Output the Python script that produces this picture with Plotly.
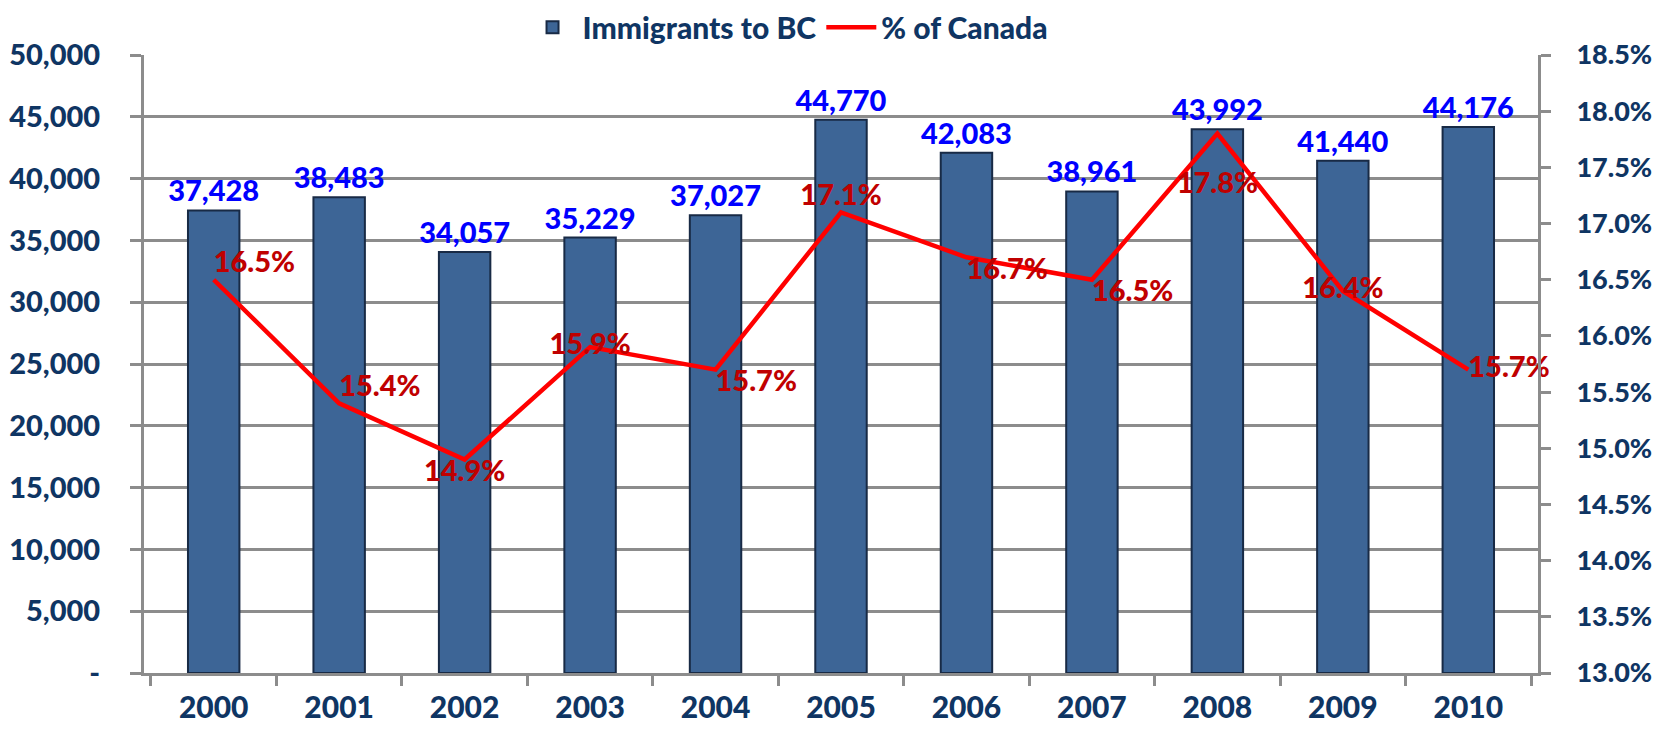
import plotly.graph_objects as go

years = ["2000", "2001", "2002", "2003", "2004", "2005", "2006", "2007", "2008", "2009", "2010"]
immigrants = [37428, 38483, 34057, 35229, 37027, 44770, 42083, 38961, 43992, 41440, 44176]
pct_canada = [16.5, 15.4, 14.9, 15.9, 15.7, 17.1, 16.7, 16.5, 17.8, 16.4, 15.7]
pct_label_pos = ["top right", "top right", "bottom center", "middle center", "bottom right",
                 "top center", "bottom right", "bottom right", "bottom center", "middle center",
                 "middle right"]
pct_label_drop = [0, 0, 0, 0, 0, 0, 0, 0, 1, 0, 0]  # extra line breaks before the label
left_ticks = [0, 5000, 10000, 15000, 20000, 25000, 30000, 35000, 40000, 45000, 50000]
left_tick_text = ["-", "5,000", "10,000", "15,000", "20,000", "25,000", "30,000",
                  "35,000", "40,000", "45,000", "50,000"]

NAVY = "#0f3563"
GRID = "#8c8c8c"
FONT = "Lato"
W = 900

fig = go.Figure()
fig.add_trace(go.Bar(
    x=years, y=immigrants, name="Immigrants to BC",
    marker=dict(color="#3d6596", line=dict(color="#182a45", width=2)),
    text=[f"{v:,}" for v in immigrants], textposition="outside", constraintext="none",
    textfont=dict(family=FONT, size=29, color="#0000ff", weight=W),
    cliponaxis=False,
))
fig.add_trace(go.Scatter(
    x=years, y=pct_canada, name="% of Canada", yaxis="y2",
    mode="lines+text", line=dict(color="#ff0000", width=4.5),
    text=["<br>" * d + f"{v:.1f}%" for v, d in zip(pct_canada, pct_label_drop)],
    textposition=pct_label_pos,
    textfont=dict(family=FONT, size=29, color="#c00000", weight=W),
    cliponaxis=False,
))

fig.update_layout(
    width=1661, height=735,
    margin=dict(l=136, r=131, t=47, b=70, autoexpand=False),
    paper_bgcolor="white", plot_bgcolor="white",
    bargap=0.59,
    font=dict(family=FONT, color=NAVY),
    showlegend=True,
    legend=dict(orientation="h", x=0.462, xanchor="center", y=1.045, yanchor="middle",
                font=dict(family=FONT, size=30, color=NAVY, weight=W),
                bgcolor="rgba(0,0,0,0)", itemwidth=50, tracegroupgap=0),
    xaxis=dict(
        type="category", showline=True, linecolor=GRID, linewidth=3, automargin=False,
        ticks="outside", tickson="boundaries", ticklen=10, tickwidth=3, tickcolor=GRID,
        tickfont=dict(family=FONT, size=30, color=NAVY, weight=W),
        ticklabelstandoff=6,
        showgrid=False,
    ),
    yaxis=dict(
        range=[0, 50000], tickvals=left_ticks, ticktext=left_tick_text, automargin=False,
        showline=True, linecolor=GRID, linewidth=3,
        ticks="outside", ticklen=11, tickwidth=3, tickcolor=GRID,
        showgrid=True, gridcolor=GRID, gridwidth=3, zeroline=False,
        tickfont=dict(family=FONT, size=29, color=NAVY, weight=W),
        ticklabelstandoff=24,
    ),
    yaxis2=dict(
        range=[13, 18.5], dtick=0.5, tick0=13, tickformat=".1f", ticksuffix="%",
        overlaying="y", side="right", showgrid=False, zeroline=False, automargin=False,
        showline=True, linecolor=GRID, linewidth=3,
        ticks="outside", ticklen=10, tickwidth=3, tickcolor=GRID,
        tickfont=dict(family=FONT, size=27, color=NAVY, weight=W),
        ticklabelstandoff=20,
    ),
)

fig.write_html("out.html")
